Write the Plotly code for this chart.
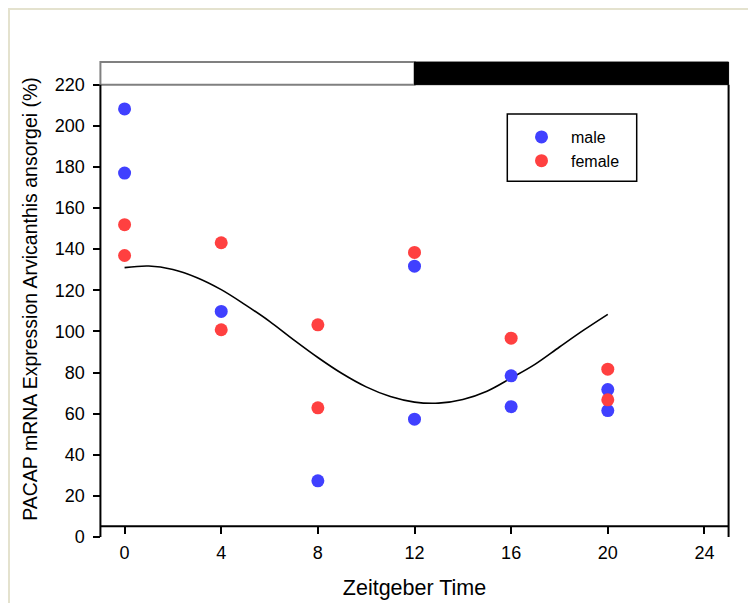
import plotly.graph_objects as go

# ---- data ----
zt_male = [0, 0, 4, 8, 12, 12, 16, 16, 20, 20]
male = [208.2, 177.0, 109.7, 27.3, 131.7, 57.3, 78.4, 63.4, 71.7, 61.5]

zt_female = [0, 0, 4, 4, 8, 8, 12, 16, 20, 20]
female = [151.9, 136.9, 143.1, 100.8, 103.2, 62.8, 138.4, 96.7, 81.6, 66.7]

zt_fit = [0, 1, 2, 3, 4, 5, 6, 7, 8, 9, 10, 11, 12, 13, 14, 15, 16, 17, 18, 19, 20]
fit = [131.0, 131.8, 130.1, 126.1, 120.3, 112.9, 104.9, 95.9, 87.3, 79.5, 73.0,
       68.3, 65.6, 65.1, 66.9, 70.9, 77.3, 84.1, 92.4, 100.6, 108.3]

x_ticks = [0, 4, 8, 12, 16, 20, 24]
y_ticks = [0, 20, 40, 60, 80, 100, 120, 140, 160, 180, 200, 220]

light_phase = [-1, 12]
dark_phase = [12, 25]

BLUE = "rgb(64,64,255)"
RED = "rgb(255,64,64)"
FONT = "Arial, Liberation Sans, sans-serif"

X0, X1 = -1.1, 25.1
Y0, Y1 = -0.5, 232.0
XLINE_Y = 5.25

fig = go.Figure()

fig.add_trace(go.Scatter(x=zt_fit, y=fit, mode="lines", line=dict(color="black", width=1.6, shape="spline"),
                         showlegend=False, hoverinfo="skip"))
fig.add_trace(go.Scatter(x=zt_male, y=male, mode="markers", name="male",
                         marker=dict(color=BLUE, size=13)))
fig.add_trace(go.Scatter(x=zt_female, y=female, mode="markers", name="female",
                         marker=dict(color=RED, size=13)))

shapes = []
# light / dark bar
shapes.append(dict(type="rect", xref="x", yref="y", x0=light_phase[0], x1=light_phase[1], y0=220, y1=231,
                   fillcolor="white", line=dict(color="#808080", width=2), layer="above"))
shapes.append(dict(type="rect", xref="x", yref="y", x0=dark_phase[0], x1=dark_phase[1], y0=220, y1=231,
                   fillcolor="black", line=dict(color="black", width=1), layer="above"))
# axes frame lines
shapes.append(dict(type="line", xref="x", yref="y", x0=-1, x1=-1, y0=0, y1=220,
                   line=dict(color="black", width=2), layer="above"))
shapes.append(dict(type="line", xref="x", yref="y", x0=25, x1=25, y0=0, y1=220,
                   line=dict(color="black", width=2), layer="above"))
shapes.append(dict(type="line", xref="x", yref="y", x0=-1, x1=25, y0=XLINE_Y, y1=XLINE_Y,
                   line=dict(color="black", width=2), layer="above"))

# page offset of the figure (browser body margin)
OFF = 8
W, H = 748, 595
L, R, T, B = 90, 25, 52, 65
pw, ph = W - L - R, H - T - B


def px2x(px):
    return (px - OFF - L) / pw


def py2y(py):
    return (H - B - (py - OFF)) / ph


# legend box
shapes.append(dict(type="rect", xref="paper", yref="paper", x0=px2x(507.3), x1=px2x(636.7),
                   y0=py2y(181.3), y1=py2y(114), line=dict(color="black", width=1.5),
                   fillcolor="rgba(0,0,0,0)", layer="above"))
# outer page frame
shapes.append(dict(type="rect", xref="paper", yref="paper", x0=px2x(OFF + 1), x1=px2x(800),
                   y0=py2y(700), y1=py2y(OFF + 1), line=dict(color="#E4E2CE", width=2),
                   fillcolor="rgba(0,0,0,0)", layer="below"))

fig.update_layout(
    width=W, height=H,
    margin=dict(l=L, r=R, t=T, b=B, autoexpand=False),
    paper_bgcolor="white", plot_bgcolor="white",
    font=dict(family=FONT, color="black", size=18),
    shapes=shapes,
    showlegend=True,
    legend=dict(x=px2x(512), y=py2y(120), xanchor="left", yanchor="top",
                bgcolor="rgba(0,0,0,0)", borderwidth=0, font=dict(size=16, family=FONT),
                itemwidth=49, tracegroupgap=0),
    xaxis=dict(range=[X0, X1], anchor="free", position=(XLINE_Y - Y0) / (Y1 - Y0),
               tickmode="array", tickvals=x_ticks, ticktext=[str(v) for v in x_ticks],
               ticks="outside", ticklen=7, tickwidth=1.5, tickcolor="black",
               showgrid=False, zeroline=False, showline=False, automargin=False,
               ticklabelstandoff=3, tickfont=dict(size=18),
               title=dict(text="Zeitgeber Time", font=dict(size=21.5, family=FONT), standoff=18)),
    yaxis=dict(range=[Y0, Y1], anchor="free", position=(-1 - X0) / (X1 - X0),
               tickmode="array", tickvals=y_ticks, ticktext=[str(v) for v in y_ticks],
               ticks="outside", ticklen=7, tickwidth=1.5, tickcolor="black",
               showgrid=False, zeroline=False, showline=False, automargin=False,
               ticklabelstandoff=5, tickfont=dict(size=18),
               title=dict(text="PACAP mRNA Expression Arvicanthis ansorgei (%)",
                          font=dict(size=19.5, family=FONT), standoff=10)),
)

fig.write_html("out.html")
